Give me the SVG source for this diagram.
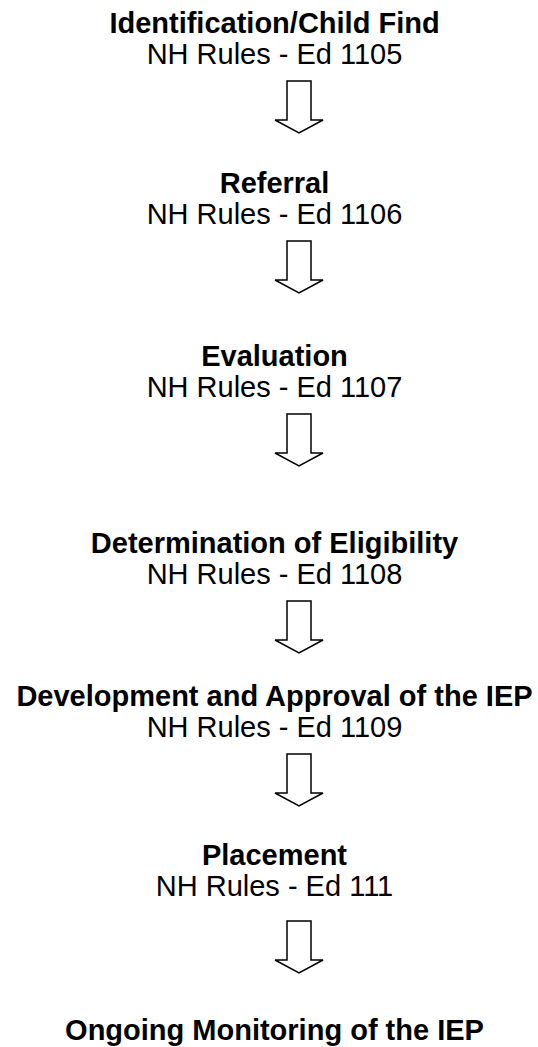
<svg xmlns="http://www.w3.org/2000/svg" width="538" height="1047" viewBox="0 0 538 1047">
<style>
.t{font-family:"Liberation Sans",Arial,sans-serif;font-size:29px;font-weight:bold;fill:#000;text-anchor:middle}
.s{font-family:"Liberation Sans",Arial,sans-serif;font-size:29px;fill:#000;text-anchor:middle}
.a{fill:#fff;stroke:#000;stroke-width:1.5;stroke-linejoin:miter}
</style>
<defs>
<path id="arr" class="a" d="M-12 0 H12 V39 H24 L0 52 L-24 39 H-12 Z"/>
</defs>
<rect width="538" height="1047" fill="#fff"/>
<g id="connectors">
<use href="#arr" x="299" y="81"/>
<use href="#arr" x="299" y="241"/>
<use href="#arr" x="299" y="414"/>
<use href="#arr" x="299" y="601"/>
<use href="#arr" x="299" y="754"/>
<use href="#arr" x="299" y="921"/>
</g>
<g id="n1"><text class="t" x="274.5" y="33">Identification/Child Find</text><text class="s" x="274.5" y="64">NH Rules - Ed 1105</text></g>
<g id="n2"><text class="t" x="274.5" y="193">Referral</text><text class="s" x="274.5" y="224">NH Rules - Ed 1106</text></g>
<g id="n3"><text class="t" x="274.5" y="366">Evaluation</text><text class="s" x="274.5" y="397">NH Rules - Ed 1107</text></g>
<g id="n4"><text class="t" x="274.5" y="553">Determination of Eligibility</text><text class="s" x="274.5" y="584">NH Rules - Ed 1108</text></g>
<g id="n5"><text class="t" x="274.5" y="706">Development and Approval of the IEP</text><text class="s" x="274.5" y="737">NH Rules - Ed 1109</text></g>
<g id="n6"><text class="t" x="274.5" y="865">Placement</text><text class="s" x="274.5" y="896">NH Rules - Ed 111</text></g>
<g id="n7"><text class="t" x="274.5" y="1040">Ongoing Monitoring of the IEP</text></g>
</svg>
